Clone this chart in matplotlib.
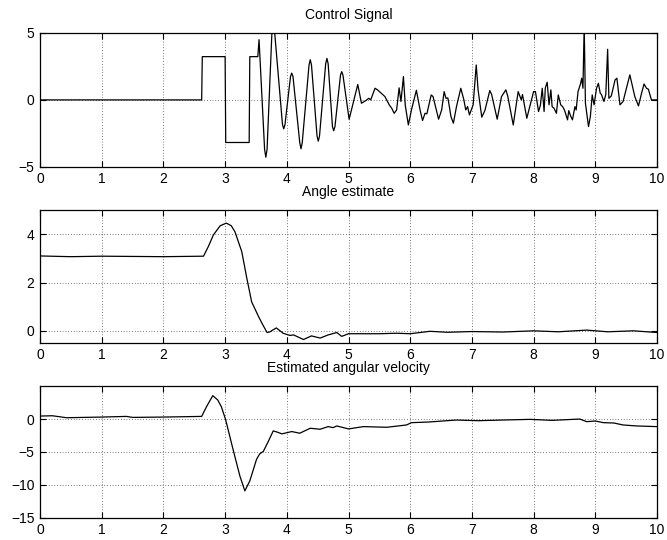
import matplotlib
matplotlib.use("Agg")
import matplotlib.pyplot as plt

plt.rcParams['font.family'] = ['Liberation Sans', 'DejaVu Sans']
plt.rcParams['font.size'] = 10

# control signal (time, value)
t_ctrl = [0, 2.62, 2.63, 3.00, 3.01, 3.39, 3.40, 3.53, 3.55, 3.64,
          3.66, 3.68, 3.76, 3.78, 3.80, 3.93, 3.95, 3.97, 4.06, 4.08,
          4.10, 4.21, 4.23, 4.25, 4.36, 4.38, 4.40, 4.49, 4.51, 4.53,
          4.63, 4.65, 4.67, 4.74, 4.76, 4.78, 4.87, 4.89, 4.91, 5.01,
          5.15, 5.21, 5.28, 5.33, 5.36, 5.43, 5.47, 5.53, 5.59, 5.66,
          5.70, 5.74, 5.78, 5.82, 5.85, 5.89, 5.92, 5.97, 6.02, 6.10,
          6.16, 6.20, 6.24, 6.27, 6.34, 6.37, 6.46, 6.51, 6.55, 6.58,
          6.61, 6.63, 6.66, 6.70, 6.75, 6.82, 6.87, 6.90, 6.93, 6.96,
          7.00, 7.02, 7.07, 7.10, 7.16, 7.21, 7.29, 7.32, 7.41, 7.48,
          7.55, 7.58, 7.67, 7.75, 7.80, 7.82, 7.89, 8.00, 8.03, 8.08,
          8.11, 8.14, 8.17, 8.19, 8.22, 8.25, 8.28, 8.30, 8.33, 8.37,
          8.40, 8.44, 8.47, 8.50, 8.55, 8.57, 8.60, 8.63, 8.67, 8.69,
          8.72, 8.76, 8.78, 8.80, 8.82, 8.84, 8.89, 8.92, 8.95, 8.98,
          9.02, 9.05, 9.08, 9.10, 9.14, 9.17, 9.20, 9.22, 9.26, 9.32,
          9.35, 9.40, 9.45, 9.56, 9.64, 9.70, 9.75, 9.79, 9.83, 9.86,
          9.91, 10.0]
u_ctrl = [0, 0, 3.23, 3.23, -3.18, -3.18, 3.23, 3.23, 4.5, -3.7,
          -4.28, -3.7, 5.2, 5.8, 5.2, -1.85, -2.16, -1.85, 1.75, 2.0,
          1.75, -3.2, -3.65, -3.2, 2.6, 3.0, 2.6, -2.7, -3.08, -2.7,
          2.7, 3.1, 2.7, -2.0, -2.3, -2.0, 1.85, 2.11, 1.85, -1.45,
          1.15, -0.25, -0.05, 0.12, 0.0, 0.87, 0.75, 0.5, 0.25, -0.37,
          -0.62, -1.0, -0.75, 0.9, -0.12, 1.74, -0.4, -1.87, -0.75, 0.72,
          -0.75, -1.54, -1.0, -1.04, 0.37, 0.25, -1.44, -0.75, 0.62, 0.12,
          0.15, -0.37, -1.24, -1.74, -0.5, 0.87, 0.0, -0.75, -0.5, -1.12,
          -0.62, -0.37, 2.61, 0.75, -1.29, -0.8, 0.70, 0.4, -1.44, 0.25,
          0.75, 0.3, -1.87, 0.62, 0.0, 0.4, -1.37, 0.62, 0.62, -0.87,
          -0.4, 0.87, -0.87, 0.9, 1.32, -0.37, 0.75, -0.5, -0.62, -1.0,
          0.37, -0.37, -0.5, -0.75, -1.49, -0.8, -1.2, -1.49, -0.5, -0.75,
          0.62, 1.19, 1.62, 0.87, 5.6, -0.25, -1.99, -1.24, 0.37, -0.37,
          0.87, 1.24, 0.5, 0.4, -0.12, 0.4, 3.78, 0.12, 0.3, 1.49,
          1.62, -0.37, -0.12, 1.87, 0.25, -0.45, 0.5, 1.19, 0.87, 0.8,
          0.0, 0.0]

# angle estimate
t_ang = [0, 0.5, 1.0, 1.5, 2.0, 2.65, 2.73, 2.81, 2.92, 3.02,
         3.10, 3.16, 3.24, 3.27, 3.35, 3.43, 3.54, 3.60, 3.68, 3.72,
         3.83, 3.94, 4.05, 4.11, 4.27, 4.40, 4.54, 4.67, 4.81, 4.89,
         5.0, 5.5, 5.78, 6.0, 6.32, 6.6, 7.0, 7.5, 8.0, 8.4,
         8.86, 9.2, 9.62, 10.0]
ang = [3.1, 3.07, 3.09, 3.08, 3.07, 3.09, 3.5, 3.97, 4.35, 4.46,
       4.35, 4.1, 3.5, 3.28, 2.2, 1.2, 0.6, 0.3, -0.07, -0.05,
       0.12, -0.1, -0.19, -0.17, -0.36, -0.21, -0.3, -0.17, -0.07, -0.23,
       -0.12, -0.12, -0.1, -0.12, -0.02, -0.06, -0.03, -0.05, 0.0, -0.04,
       0.03, -0.04, 0.0, -0.07]

# estimated angular velocity
t_vel = [0, 0.2, 0.43, 1.0, 1.4, 1.5, 2.0, 2.62, 2.70, 2.80,
         2.88, 2.94, 3.01, 3.13, 3.24, 3.32, 3.40, 3.51, 3.56, 3.62,
         3.70, 3.78, 3.85, 3.92, 4.08, 4.21, 4.38, 4.54, 4.67, 4.75,
         4.81, 5.0, 5.24, 5.62, 5.94, 6.02, 6.3, 6.75, 7.1, 7.5,
         7.94, 8.3, 8.75, 8.86, 9.0, 9.13, 9.3, 9.45, 9.67, 10.0]
vel = [0.45, 0.5, 0.2, 0.3, 0.4, 0.25, 0.3, 0.4, 1.9, 3.55,
       2.9, 1.85, -0.15, -4.66, -8.67, -10.9, -9.4, -6.1, -5.3, -4.9,
       -3.4, -1.8, -2.0, -2.25, -1.9, -2.15, -1.4, -1.55, -1.15, -1.3,
       -1.05, -1.5, -1.15, -1.25, -0.9, -0.55, -0.45, -0.15, -0.25, -0.15,
       -0.05, -0.2, 0.0, -0.4, -0.3, -0.55, -0.6, -0.9, -1.05, -1.15]

titles = ['Control Signal', 'Angle estimate', 'Estimated angular velocity']
ylims = [(-5, 5), (-0.5, 5), (-15, 5)]
yticks = [[-5, 0, 5], [0, 2, 4], [-15, -10, -5, 0]]
series = [(t_ctrl, u_ctrl), (t_ang, ang), (t_vel, vel)]
boxes = [[0.060, 0.691, 0.925, 0.248],
         [0.060, 0.365, 0.925, 0.246],
         [0.060, 0.041, 0.925, 0.244]]

fig = plt.figure(figsize=(6.67, 5.4), dpi=100)
for i in range(3):
    ax = fig.add_axes(boxes[i])
    x, y = series[i]
    ax.plot(x, y, color='k', lw=0.9)
    ax.set_xlim(0, 10)
    ax.set_ylim(*ylims[i])
    ax.set_xticks(range(11))
    ax.set_yticks(yticks[i])
    ax.grid(True, color='k', linestyle=(0, (1, 3)), lw=0.5)
    ax.tick_params(direction='in', top=True, right=True, length=4,
                   width=0.8, labelsize=10, pad=4)
    for s in ax.spines.values():
        s.set_linewidth(0.9)
    ax.set_title(titles[i], fontsize=10, pad=10)

fig.savefig('out.png', dpi=100)
